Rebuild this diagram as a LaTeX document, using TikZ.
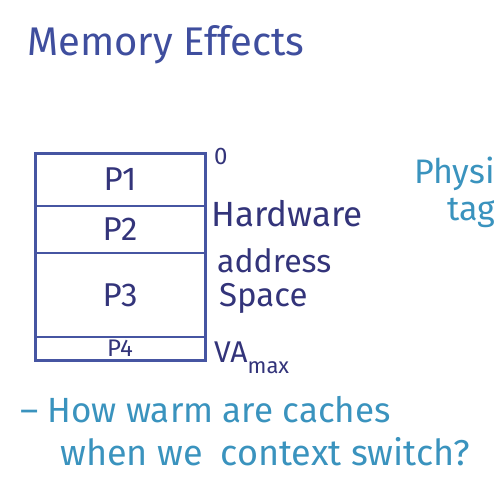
\documentclass[tikz,border=0pt]{standalone}
\usepackage{fontspec}
\setmainfont{Fira Sans}
\usetikzlibrary{positioning}
\definecolor{titleblue}{HTML}{3F4E9E}
\definecolor{boxblue}{HTML}{4655A2}
\definecolor{inkblue}{HTML}{33347A}
\definecolor{noteteal}{HTML}{3A93BE}
\tikzset{
  part/.style={draw=boxblue, line width=1.5pt, minimum width=170pt, inner sep=0pt,
    outer sep=0pt, text=inkblue, font=\fontsize{33}{33}\selectfont},
  side/.style={anchor=west, text=inkblue, inner sep=0pt, font=\fontsize{32}{32}\selectfont},
  note/.style={anchor=west, text=noteteal, inner sep=0pt, font=\fontsize{35}{35}\selectfont}
}

\begin{document}
\begin{tikzpicture}[x=1pt,y=-1pt]
  \useasboundingbox (0,0) rectangle (493,503);
  \clip (0,0) rectangle (493,503);
  % title
  \node[anchor=west, inner sep=0pt, text=titleblue, font=\fontsize{40}{40}\selectfont] (title) at (27,45) {Memory Effects};
  % address space
  \node[part, minimum height=53pt] (p1) at (120,179.5) {P1};
  \node[part, minimum height=47pt, below=0pt of p1] (p2) {P2};
  \node[part, minimum height=84pt, below=0pt of p2] (p3) {P3};
  \node[part, minimum height=23pt, below=0pt of p3, font=\fontsize{24}{24}\selectfont] (p4) {P4};
  \draw[boxblue, line width=3pt] (p1.north west) rectangle (p4.south east);
  % labels on the right
  \node[side, font=\fontsize{24}{24}\selectfont] (zero) at (214,156) {0};
  \node[side, font=\fontsize{35}{35}\selectfont] (hw) at (211,214) {Hardware};
  \node[side] (addr) at (217,261) {address};
  \node[side, font=\fontsize{33}{33}\selectfont] (spc) at (219,298) {Space};
  \node[side, font=\fontsize{30}{30}\selectfont] (vamax) at (214,358) {VA\raisebox{-0.35em}{\fontsize{22}{22}\selectfont max}};
  % notes
  \node[note, font=\fontsize{34}{34}\selectfont] (phys) at (414,174) {Physi};
  \node[note, font=\fontsize{34}{34}\selectfont] (tag) at (447,213) {tag};
  \node[note] (warm) at (20,410) {– How warm are caches};
  \node[note, font=\fontsize{36}{36}\selectfont] (ctx) at (60,452) {when we\enspace context switch?};
\end{tikzpicture}
\end{document}
